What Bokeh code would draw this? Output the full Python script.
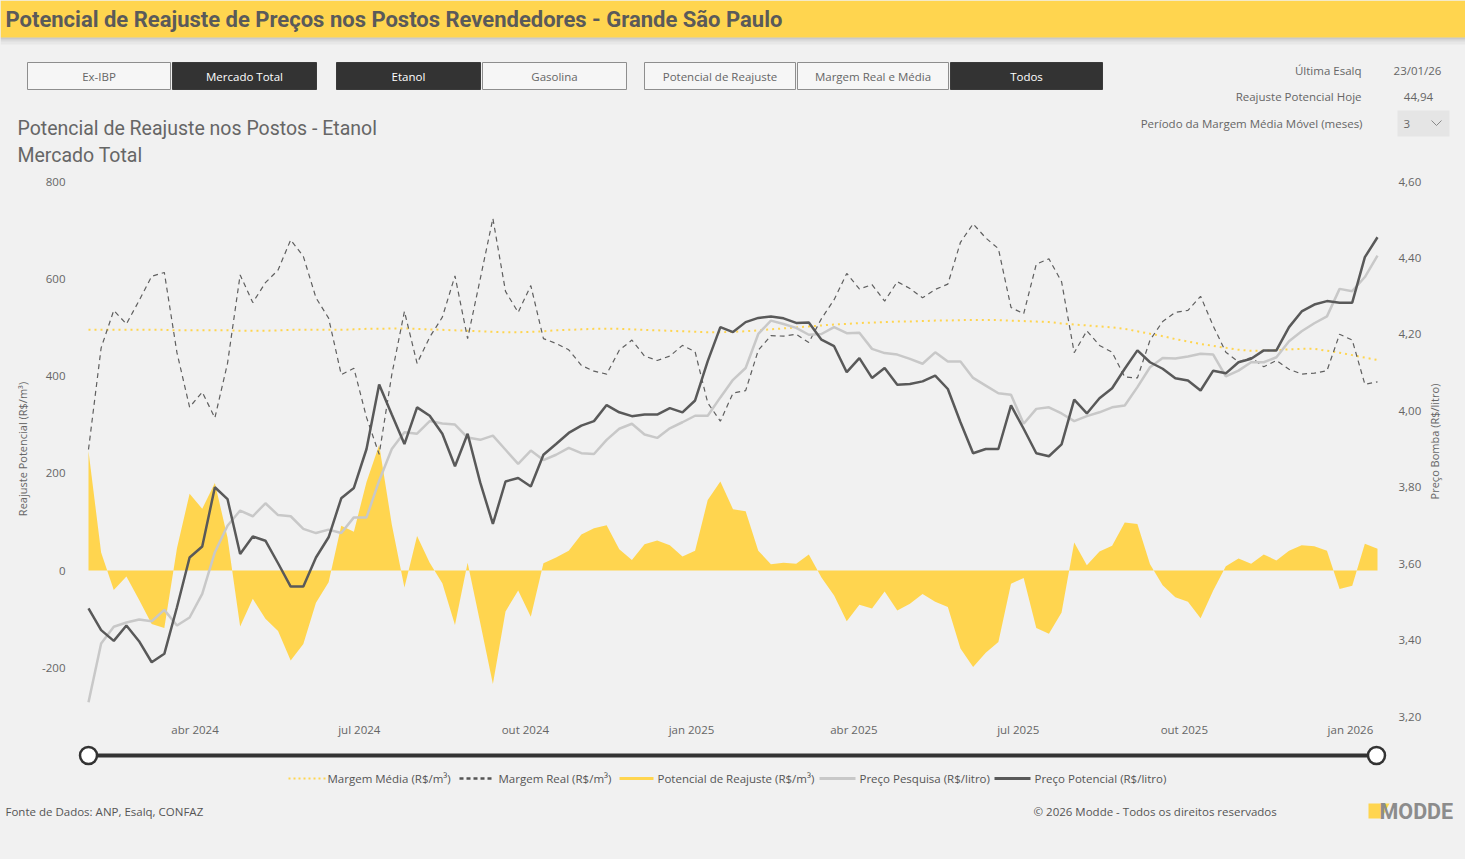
import pandas as pd
from math import pi
from bokeh.plotting import figure
from bokeh.models import Range1d, LinearAxis, FixedTicker, ColumnDataSource
from bokeh.layouts import column, row
from bokeh.core.properties import value
from bokeh.embed import file_html
from bokeh.resources import INLINE

# ---------------- data ----------------
dates = pd.date_range("2024-02-02", periods=103, freq="7D")

potencial = [246, 37, -40, -12, -60, -110, -118, 46, 158, 127,
             180, 68, -115, -58, -99, -124, -185, -151, -66, -24,
             92, 80, 182, 258, 95, -35, 71, 16, -26, -112,
             16, -108, -233, -84, -41, -95, 15, 27, 41, 74,
             87, 93, 44, 22, 54, 62, 52, 29, 41, 145,
             183, 126, 122, 41, 13, 16, 14, 33, -14, -51,
             -104, -70, -78, -43, -82, -68, -48, -64, -75, -160,
             -198, -169, -147, -27, -15, -118, -130, -86, 58, 11,
             39, 51, 99, 96, 13, -30, -55, -64, -98, -41,
             9, 25, 14, 33, 21, 41, 52, 50, 41, -38,
             -31, 55, 44.94]

margem_media = [495, 495, 495, 495, 495, 495, 495, 494, 494, 494,
                494, 494, 493, 493, 493, 494, 495, 495, 495, 495,
                495, 496, 497, 497, 498, 498, 497, 496, 495, 494,
                493, 492, 491, 490, 490, 491, 492, 494, 495, 496,
                497, 497, 497, 496, 495, 494, 493, 492, 491, 490,
                490, 491, 492, 494, 496, 498, 500, 502, 504, 506,
                507, 509, 510, 511, 512, 512, 513, 514, 514, 515,
                515, 515, 515, 514, 513, 512, 511, 508, 506, 504,
                502, 500, 497, 492, 487, 482, 476, 471, 466, 462,
                458, 454, 452, 452, 453, 455, 456, 456, 452, 448,
                443, 438, 433]

margem_real = [249, 458, 535, 507, 555, 605, 613, 448, 336, 367,
               314, 426, 608, 551, 592, 618, 680, 646, 561, 519,
               403, 416, 315, 239, 403, 533, 426, 480, 521, 606,
               477, 600, 724, 574, 531, 586, 477, 467, 454, 422,
               410, 404, 453, 474, 441, 432, 441, 463, 450, 345,
               307, 365, 370, 453, 483, 482, 486, 469, 518, 557,
               611, 579, 588, 554, 594, 580, 561, 578, 589, 675,
               713, 684, 662, 541, 528, 630, 641, 594, 448, 493,
               463, 449, 398, 396, 474, 512, 531, 535, 564, 503,
               449, 429, 438, 419, 432, 414, 404, 406, 411, 486,
               474, 383, 388]

preco_pesquisa = [3.237, 3.391, 3.435, 3.446, 3.454, 3.449, 3.479, 3.438, 3.459, 3.521,
                  3.630, 3.699, 3.739, 3.724, 3.758, 3.727, 3.724, 3.691, 3.680, 3.689,
                  3.680, 3.721, 3.721, 3.817, 3.900, 3.944, 3.940, 3.973, 3.967, 3.964,
                  3.930, 3.924, 3.935, 3.898, 3.861, 3.896, 3.871, 3.885, 3.903, 3.889,
                  3.887, 3.924, 3.953, 3.966, 3.938, 3.929, 3.954, 3.970, 3.987, 3.987,
                  4.035, 4.081, 4.112, 4.201, 4.236, 4.227, 4.217, 4.199, 4.201, 4.219,
                  4.203, 4.204, 4.162, 4.151, 4.147, 4.136, 4.123, 4.153, 4.129, 4.129,
                  4.086, 4.066, 4.046, 4.042, 3.966, 4.005, 4.009, 3.993, 3.973, 3.986,
                  3.996, 4.009, 4.014, 4.062, 4.114, 4.138, 4.137, 4.142, 4.149, 4.147,
                  4.090, 4.105, 4.127, 4.127, 4.140, 4.182, 4.208, 4.229, 4.247, 4.319,
                  4.313, 4.350, 4.406]

preco_potencial = [3.483, 3.426, 3.398, 3.438, 3.397, 3.342, 3.364, 3.486, 3.616, 3.645,
                   3.800, 3.769, 3.625, 3.671, 3.660, 3.601, 3.540, 3.540, 3.616, 3.669,
                   3.771, 3.798, 3.900, 4.069, 3.990, 3.913, 4.009, 3.987, 3.940, 3.855,
                   3.940, 3.812, 3.704, 3.815, 3.824, 3.802, 3.885, 3.913, 3.942, 3.961,
                   3.973, 4.015, 3.996, 3.986, 3.990, 3.990, 4.007, 3.996, 4.027, 4.130,
                   4.219, 4.206, 4.232, 4.243, 4.247, 4.242, 4.230, 4.231, 4.186, 4.169,
                   4.101, 4.138, 4.086, 4.112, 4.068, 4.070, 4.077, 4.092, 4.057, 3.970,
                   3.889, 3.900, 3.900, 4.014, 3.953, 3.889, 3.881, 3.912, 4.029, 3.993,
                   4.033, 4.059, 4.110, 4.158, 4.127, 4.110, 4.085, 4.079, 4.053, 4.105,
                   4.098, 4.127, 4.136, 4.158, 4.158, 4.219, 4.260, 4.278, 4.287, 4.283,
                   4.283, 4.402, 4.454]

x_tick_dates = ["2024-04-01", "2024-07-01", "2024-10-01", "2025-01-01",
                "2025-04-01", "2025-07-01", "2025-10-01", "2026-01-01"]
x_tick_labels = ["abr 2024", "jul 2024", "out 2024", "jan 2025",
                 "abr 2025", "jul 2025", "out 2025", "jan 2026"]
left_ticks = [-200, 0, 200, 400, 600, 800]
left_tick_labels = ["-200", "0", "200", "400", "600", "800"]
price_ticks = [3.2, 3.4, 3.6, 3.8, 4.0, 4.2, 4.4, 4.6]
price_tick_labels = ["3,20", "3,40", "3,60", "3,80", "4,00", "4,20", "4,40", "4,60"]

buttons = ["Ex-IBP", "Mercado Total", "Etanol", "Gasolina",
           "Potencial de Reajuste", "Margem Real e Média", "Todos"]
buttons_on = [False, True, True, False, False, False, True]
legend_labels = ["Margem Média (R$/m³)", "Margem Real (R$/m³)",
                 "Potencial de Reajuste (R$/m³)", "Preço Pesquisa (R$/litro)",
                 "Preço Potencial (R$/litro)"]

# ---------------- styles ----------------
BG = "#F1F1F1"
YEL = "#FFD54F"
DARK = "#595959"
LIGHT = "#C8C8C8"
TXT = "#666666"
UI_FONT = "Open Sans"
DIN_FONT = "Roboto"
W = 1465
H = 859


def deco_fig(w, h, x0, x1, y0, y1):
    f = figure(width=w, height=h, x_range=Range1d(x0, x1), y_range=Range1d(y1, y0),
               output_backend="svg", toolbar_location=None, tools="", min_border=0,
               x_axis_location=None, y_axis_location=None)
    f.xgrid.visible = False
    f.ygrid.visible = False
    f.outline_line_color = None
    f.background_fill_color = BG
    f.border_fill_color = BG
    return f


def txt(f, x, y, s, size="12px", color=TXT, align="left", font=UI_FONT, style="normal", angle=0.0):
    f.text(x=[x], y=[y], text=[s], text_font=value(font), text_font_size=value(size),
           text_color=color, text_align=align, text_baseline="middle",
           text_font_style=style, angle=angle)


# ---------------- header (screen y 0..170) ----------------
hdr = deco_fig(W, 170, 0, W, 0, 170)
hdr.quad(left=[0], right=[W], top=[0], bottom=[37], fill_color=YEL, line_color=None)
for (t, b, a) in [(37, 39, 0.16), (39, 41, 0.09), (41, 44, 0.04)]:
    hdr.quad(left=[0], right=[W], top=[t], bottom=[b], fill_color="black",
             fill_alpha=a, line_color=None)
txt(hdr, 5, 18.5, "Potencial de Reajuste de Preços nos Postos Revendedores - Grande São Paulo",
    size="22px", color="#5A5A5A", font=DIN_FONT, style="bold")

btn_left = [27, 172, 336, 482, 644, 797, 950]
btn_right = [170, 316, 480, 626, 795, 948, 1102]
for i, lab in enumerate(buttons):
    on = buttons_on[i]
    hdr.quad(left=[btn_left[i]], right=[btn_right[i]], top=[62], bottom=[89],
             fill_color="#333333" if on else "#F6F6F6",
             line_color="#3A3A3A" if on else "#8E8E8E", line_width=1)
    txt(hdr, (btn_left[i] + btn_right[i]) / 2, 75.5, lab, size="11.5px",
        color="#FFFFFF" if on else "#666666", align="center")

txt(hdr, 1361, 70, "Última Esalq", size="11.5px", align="right")
txt(hdr, 1417, 70, "23/01/26", size="11.5px", align="center")
txt(hdr, 1361, 96, "Reajuste Potencial Hoje", size="11.5px", align="right")
txt(hdr, 1418, 96, "44,94", size="11.5px", align="center")
txt(hdr, 1362, 123, "Período da Margem Média Móvel (meses)", size="11.5px", align="right")
hdr.quad(left=[1397], right=[1449], top=[110], bottom=[136], fill_color="#E5E5E5", line_color=None)
txt(hdr, 1403, 123, "3", size="11.5px")
hdr.line(x=[1431, 1436, 1441], y=[120, 125, 120], line_color="#888888", line_width=1)

txt(hdr, 17, 128, "Potencial de Reajuste nos Postos - Etanol", size="19.5px", color="#666666", font=DIN_FONT)
txt(hdr, 17, 155, "Mercado Total", size="19.5px", color="#666666", font=DIN_FONT)

# ---------------- chart (screen y 170..742, x 0..1427) ----------------
pad = pd.Timedelta(days=7.2)
p = figure(width=1427, height=572, x_axis_type="datetime",
           x_range=Range1d(dates[0] - pad, dates[-1] + pad), y_range=Range1d(-300, 800),
           output_backend="svg", toolbar_location=None, tools="",
           min_border_left=75, min_border_right=37, min_border_top=11, min_border_bottom=26)
p.extra_y_ranges = {"price": Range1d(3.2, 4.6)}
p.xgrid.visible = False
p.ygrid.visible = False
p.outline_line_color = None
p.background_fill_color = BG
p.border_fill_color = BG

src = ColumnDataSource(dict(date=dates, pot=potencial, media=margem_media, real=margem_real,
                            pesq=preco_pesquisa, ppot=preco_potencial))
p.varea(x="date", y1=0, y2="pot", source=src, fill_color=YEL)
p.line("date", "media", source=src, line_color=YEL, line_width=2, line_dash="2 4")
p.line("date", "real", source=src, line_color="#5F5F5F", line_width=1.2, line_dash="5 4")
p.line("date", "pesq", source=src, y_range_name="price", line_color=LIGHT, line_width=2.5)
p.line("date", "ppot", source=src, y_range_name="price", line_color=DARK, line_width=2.5)

rax = LinearAxis(y_range_name="price")
p.add_layout(rax, "right")

xt_ms = [int(pd.Timestamp(d).value // 10**6) for d in x_tick_dates]
p.xaxis[0].ticker = FixedTicker(ticks=xt_ms)
p.xaxis[0].major_label_overrides = {k: v for k, v in zip(xt_ms, x_tick_labels)}
p.yaxis[0].ticker = FixedTicker(ticks=left_ticks)
p.yaxis[0].major_label_overrides = {k: v for k, v in zip(left_ticks, left_tick_labels)}
rax.ticker = FixedTicker(ticks=price_ticks)
rax.major_label_overrides = {k: v for k, v in zip(price_ticks, price_tick_labels)}

for ax in [p.xaxis[0], p.yaxis[0], rax]:
    ax.axis_line_color = None
    ax.major_tick_line_color = None
    ax.minor_tick_line_color = None
    ax.major_tick_out = 0
    ax.major_tick_in = 0
    ax.minor_tick_out = 0
    ax.minor_tick_in = 0
    ax.major_label_text_color = TXT
    ax.major_label_text_font = UI_FONT
    ax.major_label_text_font_size = "11.5px"
p.xaxis[0].major_label_standoff = 5
p.yaxis[0].major_label_standoff = 10
rax.major_label_standoff = 8
p.yaxis[0].axis_label = "Reajuste Potencial (R$/m³)"
p.yaxis[0].axis_label_text_font = UI_FONT
p.yaxis[0].axis_label_text_font_size = "11px"
p.yaxis[0].axis_label_text_font_style = "normal"
p.yaxis[0].axis_label_text_color = TXT
p.yaxis[0].axis_label_standoff = 9

rl = deco_fig(W - 1427, 572, 1427, W, 170, 742)
txt(rl, 1434, 448, "Preço Bomba (R$/litro)", size="11px", align="center", angle=pi / 2)

# ---------------- footer (screen y 742..859) ----------------
ft = deco_fig(W, H - 742, 0, W, 742, H)
ft.line(x=[88, 1376], y=[755, 755], line_color="#333333", line_width=4)
ft.scatter(x=[88, 1376], y=[755, 755], size=17, fill_color="white",
           line_color="#333333", line_width=2.5)

sw_l = [288, 459, 619, 819, 994]
sw_r = [326, 494, 653, 855, 1030]
sw_col = [YEL, "#555555", YEL, LIGHT, DARK]
sw_w = [2, 2.5, 3, 3, 3]
sw_dash = ["2 3", "4 3", "solid", "solid", "solid"]
lab_x = [327, 498, 657, 859, 1034]
for i, lab in enumerate(legend_labels):
    ft.line(x=[sw_l[i], sw_r[i]], y=[778, 778], line_color=sw_col[i],
            line_width=sw_w[i], line_dash=sw_dash[i])
    txt(ft, lab_x[i], 778, lab, size="11.5px", color="#555555")

txt(ft, 5, 811, "Fonte de Dados: ANP, Esalq, CONFAZ", size="11.5px", color="#555555")
txt(ft, 1033, 811, "© 2026 Modde - Todos os direitos reservados", size="11.5px", color="#555555")
ft.patch(x=[1368, 1389, 1381, 1368], y=[803, 803, 818, 818], fill_color=YEL, line_color=None)
txt(ft, 1379, 811, "MODDE", size="21.5px", color="#8C8C8C", font=DIN_FONT, style="bold")

layout = column(hdr, row(p, rl, spacing=0, styles={"background-color": BG}), ft,
                spacing=0, styles={"background-color": BG})
open("out.html", "w").write(file_html(layout, INLINE))
